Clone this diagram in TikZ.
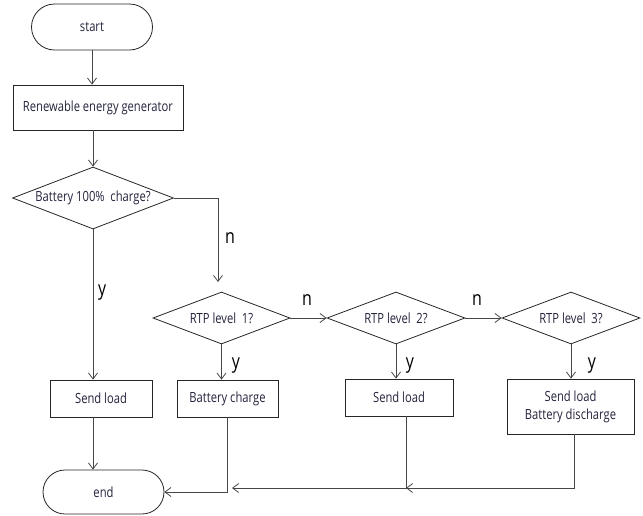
\documentclass[tikz,border=0pt]{standalone}
\usepackage{fontspec}
\setmainfont{Open Sans}[FakeStretch=0.8]
\usepackage{tikz}
\usetikzlibrary{arrows.meta,calc,positioning,shapes.misc,shapes.geometric}
\definecolor{ink}{RGB}{35,35,60}
\definecolor{wire}{RGB}{70,70,70}

\begin{document}
\begin{tikzpicture}[x=1pt,y=-1pt,
  box/.style={draw=black!85,line width=0.8pt,inner sep=0pt,font=\fontsize{14}{18}\selectfont,text=ink,align=center},
  term/.style={box,rounded rectangle},
  ask/.style={box,diamond,aspect=2.6},
  arr/.style={draw=wire,line width=0.8pt,-{Straight Barb[length=6pt,width=9pt]}},
  lbl/.style={font=\fontsize{20}{20}\selectfont,inner sep=0pt}]
  \useasboundingbox (0,0) rectangle (643,515);
  % main column
  \node[term,minimum width=121pt,minimum height=46pt] (start) at (92,27) {start};
  \node[box,minimum width=170pt,minimum height=45pt] (gen) at (98,107.5) {Renewable energy generator};
  \node[ask,minimum width=161pt,minimum height=62pt] (bat) at (93,198) {Battery 100\%\ \ charge?};
  \node[box,minimum width=102pt,minimum height=37pt] (load1) at (101,398.5) {Send load};
  \node[term,minimum width=121pt,minimum height=44pt] (end) at (103.5,492) {end};
  % RTP levels
  \node[ask,minimum width=137pt,minimum height=52pt] (rtp1) at (221.5,318) {RTP level\ \ 1?};
  \node[ask,minimum width=138pt,minimum height=52pt] (rtp2) at (396,318) {RTP level\ \ 2?};
  \node[ask,minimum width=138pt,minimum height=52pt] (rtp3) at (571,318) {RTP level\ \ 3?};
  \node[box,minimum width=101pt,minimum height=37pt] (charge) at (227.5,398.5) {Battery charge};
  \node[box,minimum width=108pt,minimum height=37pt] (load2) at (399,397.5) {Send load};
  \node[box,minimum width=127pt,minimum height=55pt] (dis) at (570.5,406.5) {Send load\\Battery discharge};
  \coordinate (nend) at (218,282);
  \coordinate (j2) at (406,488);
  \coordinate (j1) at (232,488);
  % connectors
  \draw[arr] (start.south) -- (start.south |- gen.north);
  \draw[arr] (bat.north |- gen.south) -- (bat.north);
  \draw[arr] (bat.south) -- (bat.south |- load1.north);
  \draw[arr] (bat.east) -| (nend);
  \draw[arr] (rtp1.east) -- (rtp2.west);
  \draw[arr] (rtp2.east) -- (rtp3.west);
  \draw[arr] (rtp1.south) -- (rtp1.south |- charge.north);
  \draw[arr] (rtp2.south) -- (rtp2.south |- load2.north);
  \draw[arr] (rtp3.south) -- (rtp3.south |- dis.north);
  \draw[arr] (bat.south |- load1.south) -- (bat.south |- end.north);
  \draw[arr] (charge.south) |- (end.east);
  \draw[arr] ([xshift=3.5pt]dis.south) |- (j2);
  \draw[arr] (load2.south -| j2) -- (j2) -- (j1);
  % branch labels
  \node[lbl,anchor=west] (ly0) at (98,293) {y};
  \node[lbl,anchor=west] (ln0) at (225,238) {n};
  \node[lbl] (ln1) at (307,300) {n};
  \node[lbl] (ln2) at (477,300) {n};
  \node[lbl] (ly1) at (236,366) {y};
  \node[lbl] (ly2) at (410,366) {y};
  \node[lbl] (ly3) at (592,366) {y};
\end{tikzpicture}
\end{document}
